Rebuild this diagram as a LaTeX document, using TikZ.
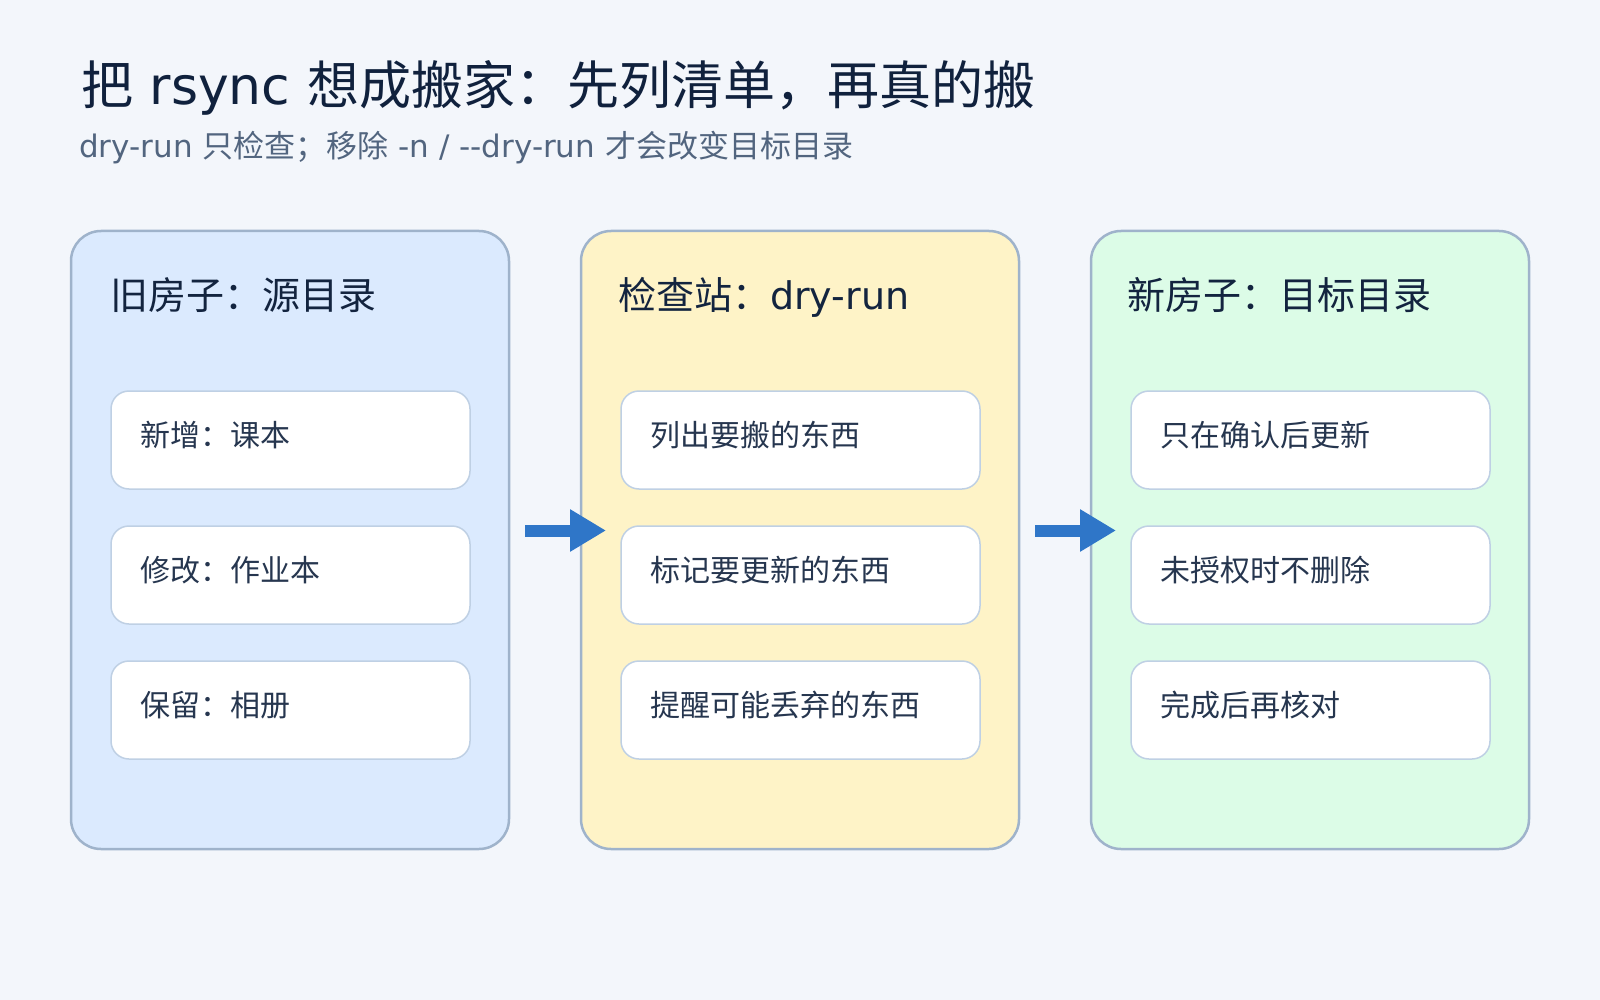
\documentclass[tikz,border=0pt]{standalone}
\usepackage{fontspec}
\newfontfamily\cjk{Noto Sans CJK SC}
\newfontfamily\lat{DejaVu Sans}
\usetikzlibrary{arrows.meta}
\definecolor{bgc}{HTML}{F3F6FB}
\definecolor{pblue}{HTML}{DBEAFE}
\definecolor{pamber}{HTML}{FEF3C7}
\definecolor{pgreen}{HTML}{DCFCE7}
\definecolor{pborder}{HTML}{9FB3CB}
\definecolor{bborder}{HTML}{BFD0E4}
\definecolor{titlec}{HTML}{10213D}
\definecolor{subc}{HTML}{52657F}
\definecolor{ptitlec}{HTML}{13243F}
\definecolor{itemc}{HTML}{26364F}
\definecolor{arrowc}{HTML}{2F76C8}
\tikzset{
  panel/.style={draw=pborder, line width=2.5pt, rounded corners=30pt, inner sep=0pt, outer sep=0pt,
    minimum width=438pt, minimum height=618pt, anchor=north west},
  itembox/.style={draw=bborder, line width=1.5pt, fill=white, rounded corners=18pt, inner sep=0pt, outer sep=0pt,
    minimum width=359pt, minimum height=98pt, anchor=north west},
  maintitle/.style={anchor=base west, inner sep=0pt, text=titlec, font=\cjk\fontsize{52}{60}\selectfont},
  subtitle/.style={anchor=base west, inner sep=0pt, text=subc, font=\cjk\fontsize{31}{38}\selectfont},
  ptitle/.style={anchor=base west, inner sep=0pt, text=ptitlec, font=\cjk\fontsize{38}{44}\selectfont},
  itemtext/.style={anchor=base west, inner sep=0pt, text=itemc, font=\cjk\fontsize{30}{36}\selectfont},
  flow/.style={draw=arrowc, line width=12pt, -{Triangle[length=36pt,width=40pt]}, fill=arrowc}
}
\begin{document}
\begin{tikzpicture}[x=1pt,y=-1pt]
\fill[bgc] (0,0) rectangle (1600,1000);
\useasboundingbox (0,0) rectangle (1600,1000);

\node[maintitle] (title) at (81,105) {把{\lat\ rsync }想成搬家：先列清单，再真的搬};
\node[subtitle] (sub) at (79,158) {{\lat dry-run }只检查；移除{\lat\ -n / -{}-dry-run }才会改变目标目录};

% panels
\node[panel, fill=pblue] (p1) at (71,231) {};
\node[panel, fill=pamber] (p2) at (581,231) {};
\node[panel, fill=pgreen] (p3) at (1091,231) {};

\node[ptitle] (t1) at (110,309) {旧房子：源目录};
\node[ptitle] (t2) at (618,309) {检查站：{\lat dry-run}};
\node[ptitle] (t3) at (1127,309) {新房子：目标目录};

% items
\foreach \px/\p in {111/1, 621/2, 1131/3}{
  \node[itembox] (b\p a) at (\px,391) {};
  \node[itembox] (b\p b) at (\px,526) {};
  \node[itembox] (b\p c) at (\px,661) {};
}
\node[itemtext] (i1a) at ([xshift=29pt,yshift=-55pt]b1a.north west) {新增：课本};
\node[itemtext] (i1b) at ([xshift=29pt,yshift=-55pt]b1b.north west) {修改：作业本};
\node[itemtext] (i1c) at ([xshift=29pt,yshift=-55pt]b1c.north west) {保留：相册};
\node[itemtext] (i2a) at ([xshift=29pt,yshift=-55pt]b2a.north west) {列出要搬的东西};
\node[itemtext] (i2b) at ([xshift=29pt,yshift=-55pt]b2b.north west) {标记要更新的东西};
\node[itemtext] (i2c) at ([xshift=29pt,yshift=-55pt]b2c.north west) {提醒可能丢弃的东西};
\node[itemtext] (i3a) at ([xshift=29pt,yshift=-55pt]b3a.north west) {只在确认后更新};
\node[itemtext] (i3b) at ([xshift=29pt,yshift=-55pt]b3b.north west) {未授权时不删除};
\node[itemtext] (i3c) at ([xshift=29pt,yshift=-55pt]b3c.north west) {完成后再核对};

% arrows
\coordinate (a1s) at (525,530.5);
\coordinate (a1e) at (606,530.5);
\coordinate (a2s) at (1035,530.5);
\coordinate (a2e) at (1116,530.5);
\draw[flow] (a1s) -- (a1e);
\draw[flow] (a2s) -- (a2e);
\end{tikzpicture}
\end{document}
